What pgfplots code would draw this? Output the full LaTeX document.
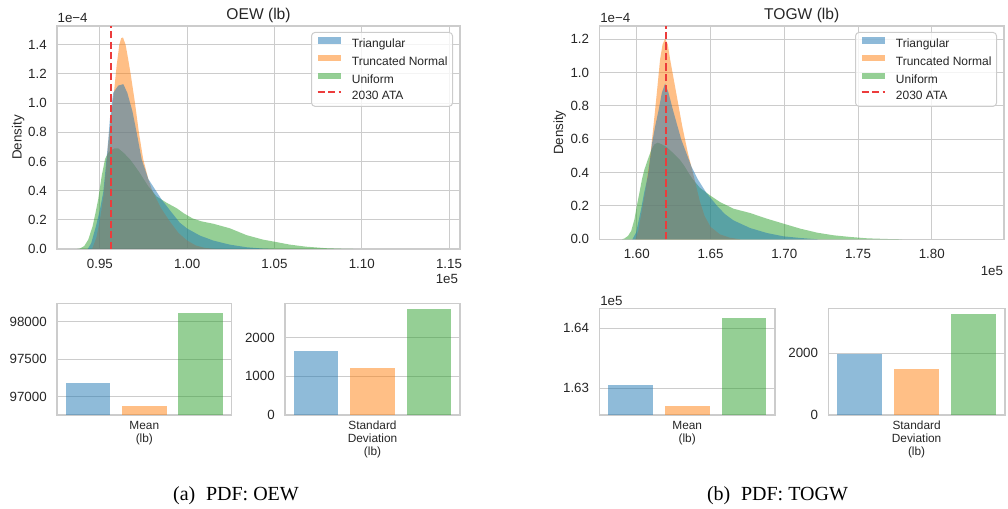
\documentclass[border=0pt]{standalone}
\usepackage{fontspec}
\setmainfont{Liberation Sans}
\newfontfamily\capfont{Liberation Serif}
\usepackage{pgfplots}
\pgfplotsset{compat=1.18}
\definecolor{tabblue}{RGB}{31,119,180}
\definecolor{taborange}{RGB}{255,127,14}
\definecolor{tabgreen}{RGB}{44,160,44}
\definecolor{gridc}{RGB}{204,204,204}
\definecolor{txt}{RGB}{38,38,38}
\definecolor{ata}{RGB}{236,60,60}
\pgfplotsset{
  sb/.style={
    scale only axis, anchor=south west,
    axis line style={draw=gridc, line width=0.9pt},
    major grid style={draw=gridc, line width=0.75pt},
    major tick length=0pt,
    every tick/.style={draw=none},
    /pgf/number format/assume math mode=true,
    ticklabel style={text=txt, font=\fontsize{10}{12}\selectfont},
    yticklabel style={inner sep=0pt, anchor=east, xshift=-7.5pt},
    scaled ticks=false,
  },
  hist/.style={sb, xmajorgrids, ymajorgrids, ymin=0,
    xticklabel style={inner sep=0pt, anchor=north, yshift=-7.5pt},
    legend style={at={(1,1)}, anchor=north east, xshift=-5.25pt, yshift=-4.5pt,
      draw=gridc, line width=0.75pt, rounded corners=2.5pt, fill=white, fill opacity=0.8, text opacity=1,
      font=\fontsize{9}{10.8}\selectfont, text=txt,
      inner xsep=3.75pt, inner ysep=3.4pt, row sep=3.3pt, column sep=7.5pt,
      nodes={inner sep=0pt, text height=6.6pt, text depth=1.9pt}},
    legend cell align=left,
  },
  bars/.style={sb, ymajorgrids, xmin=-0.5, xmax=0.5, xtick={0},
    xticklabel style={inner sep=0pt, anchor=north, yshift=-4.5pt, align=center, font=\fontsize{8.9}{9.5}\selectfont},
  },
  patchleg/.style={legend image code/.code={\fill[##1, sharp corners] (0pt,0.8pt) rectangle (17.5pt,5.8pt);}},
  lineleg/.style={legend image code/.code={\draw[##1, sharp corners] (0pt,3.3pt) -- (17.5pt,3.3pt);}},
  hb/.style={draw=none, fill=tabblue, fill opacity=0.5, forget plot},
  ho/.style={draw=none, fill=taborange, fill opacity=0.5, forget plot},
  hg/.style={draw=none, fill=tabgreen, fill opacity=0.5, forget plot},
  ataline/.style={ata, line width=1.5pt, dash pattern=on 5.5pt off 2.4pt},
  bb/.style={ybar, bar width=0.255, bar shift=0pt, draw=none, fill opacity=0.5},
}
\begin{document}
\begin{tikzpicture}
\useasboundingbox (0,0) rectangle (756pt,381pt);

% ---------------- OEW histogram ----------------
\begin{axis}[hist, at={(42.75pt,194.25pt)}, width=302.25pt, height=167.25pt,
  xmin=0.9254, xmax=1.1563, ymax=1.5285,
  xtick={0.95,1.00,1.05,1.10,1.15}, xticklabels={0.95,1.00,1.05,1.10,1.15},
  ytick={0,0.2,0.4,0.6,0.8,1.0,1.2,1.4}, yticklabels={0.0,0.2,0.4,0.6,0.8,1.0,1.2,1.4}]
\addlegendimage{patchleg, fill=tabblue, fill opacity=0.5, draw=none}
\addlegendentry{Triangular}
\addlegendimage{patchleg, fill=taborange, fill opacity=0.5, draw=none}
\addlegendentry{Truncated Normal}
\addlegendimage{patchleg, fill=tabgreen, fill opacity=0.5, draw=none}
\addlegendentry{Uniform}
\addlegendimage{lineleg, ataline}
\addlegendentry{2030 ATA}
% Uniform
\addplot[hg] coordinates {(0.9370,0) (0.9385,0.003) (0.9410,0.02) (0.9433,0.064) (0.9458,0.156) (0.9475,0.25) (0.9490,0.34) (0.9510,0.5) (0.9529,0.615) (0.9545,0.655) (0.9560,0.675) (0.9585,0.69) (0.9605,0.69) (0.9635,0.66) (0.9672,0.615) (0.9700,0.57) (0.9729,0.52) (0.9777,0.43) (0.9825,0.36) (0.9882,0.317) (0.9939,0.28) (0.9980,0.245) (1.0030,0.21) (1.0080,0.19) (1.0150,0.173) (1.0244,0.142) (1.0340,0.095) (1.0435,0.064) (1.0500,0.05) (1.0588,0.03) (1.0680,0.016) (1.0800,0.005) (1.0900,0.001) (1.0950,0)} \closedcycle;
% Truncated Normal
\addplot[ho] coordinates {(0.9455,0) (0.9480,0.08) (0.9500,0.2) (0.9520,0.36) (0.9535,0.55) (0.9550,0.75) (0.9565,0.92) (0.9580,1.07) (0.9596,1.26) (0.9611,1.4) (0.9622,1.445) (0.9632,1.45) (0.9647,1.4) (0.9662,1.3) (0.9676,1.2) (0.9701,1.0) (0.9723,0.8) (0.9748,0.615) (0.9777,0.48) (0.9800,0.40) (0.9850,0.28) (0.9900,0.19) (0.9950,0.11) (1.0000,0.058) (1.0050,0.024) (1.0100,0.008) (1.0150,0.002) (1.0200,0)} \closedcycle;
% Triangular
\addplot[hb] coordinates {(0.9430,0) (0.9450,0.04) (0.9477,0.156) (0.9500,0.27) (0.9519,0.39) (0.9534,0.57) (0.9548,0.75) (0.9557,0.89) (0.9576,1.07) (0.9605,1.12) (0.9634,1.13) (0.9657,1.07) (0.9687,0.94) (0.9710,0.8) (0.9739,0.615) (0.9777,0.48) (0.9815,0.41) (0.9853,0.34) (0.9911,0.25) (0.9958,0.18) (1.0000,0.14) (1.0073,0.092) (1.0149,0.058) (1.0244,0.03) (1.0340,0.012) (1.0435,0.003) (1.0500,0)} \closedcycle;
\addplot[ataline, forget plot] coordinates {(0.9563,0) (0.9563,1.5285)};
\end{axis}

% ---------------- TOGW histogram ----------------
\begin{axis}[hist, at={(449.5pt,201.5pt)}, width=303.5pt, height=160pt,
  xmin=1.5746, xmax=1.849, ymax=1.28,
  xtick={1.60,1.65,1.70,1.75,1.80}, xticklabels={1.60,1.65,1.70,1.75,1.80},
  ytick={0,0.2,0.4,0.6,0.8,1.0,1.2}, yticklabels={0.0,0.2,0.4,0.6,0.8,1.0,1.2}]
\addlegendimage{patchleg, fill=tabblue, fill opacity=0.5, draw=none}
\addlegendentry{Triangular}
\addlegendimage{patchleg, fill=taborange, fill opacity=0.5, draw=none}
\addlegendentry{Truncated Normal}
\addlegendimage{patchleg, fill=tabgreen, fill opacity=0.5, draw=none}
\addlegendentry{Uniform}
\addlegendimage{lineleg, ataline}
\addlegendentry{2030 ATA}
% Uniform
\addplot[hg] coordinates {(1.5900,0) (1.5916,0.005) (1.5940,0.02) (1.5962,0.05) (1.5984,0.12) (1.6000,0.2) (1.6018,0.28) (1.6035,0.36) (1.6052,0.42) (1.6075,0.48) (1.6100,0.54) (1.6120,0.57) (1.6143,0.58) (1.6170,0.57) (1.6200,0.555) (1.6244,0.52) (1.6290,0.48) (1.6323,0.44) (1.6350,0.40) (1.6380,0.36) (1.6427,0.31) (1.6496,0.264) (1.6564,0.224) (1.6655,0.184) (1.6768,0.158) (1.6882,0.124) (1.6995,0.094) (1.7109,0.064) (1.7223,0.04) (1.7336,0.024) (1.7450,0.014) (1.7564,0.006) (1.7700,0.002) (1.7800,0)} \closedcycle;
% Truncated Normal
\addplot[ho] coordinates {(1.5990,0) (1.6010,0.05) (1.6030,0.15) (1.6060,0.30) (1.6090,0.49) (1.6113,0.68) (1.6136,0.88) (1.6158,1.08) (1.6175,1.17) (1.6192,1.204) (1.6210,1.17) (1.6226,1.08) (1.6267,0.88) (1.6308,0.68) (1.6346,0.52) (1.6369,0.44) (1.6400,0.33) (1.6427,0.23) (1.6460,0.14) (1.6500,0.075) (1.6564,0.03) (1.6630,0.01) (1.6700,0)} \closedcycle;
% Triangular
\addplot[hb] coordinates {(1.5970,0) (1.5995,0.04) (1.6029,0.18) (1.6050,0.28) (1.6075,0.38) (1.6090,0.48) (1.6104,0.58) (1.6125,0.68) (1.6149,0.78) (1.6170,0.88) (1.6192,0.935) (1.6215,0.88) (1.6244,0.78) (1.6301,0.6) (1.6369,0.44) (1.6414,0.36) (1.6471,0.28) (1.6550,0.195) (1.6600,0.15) (1.6655,0.114) (1.6768,0.068) (1.6882,0.038) (1.6995,0.018) (1.7110,0.008) (1.7230,0)} \closedcycle;
\addplot[ataline, forget plot] coordinates {(1.6197,0) (1.6197,1.28)};
\end{axis}

% ---------------- OEW mean ----------------
\begin{axis}[bars, at={(42.75pt,69.75pt)}, width=131pt, height=83.8pt,
  ymin=96761, ymax=98244, ytick={97000,97500,98000}, yticklabels={97000,97500,98000},
  xticklabels={{Mean\\(lb)}}]
\addplot[bb, fill=tabblue] coordinates {(-0.323,97182)};
\addplot[bb, fill=taborange] coordinates {(0,96881)};
\addplot[bb, fill=tabgreen] coordinates {(0.323,98111)};
\end{axis}

% ---------------- OEW std ----------------
\begin{axis}[bars, at={(213.75pt,69.75pt)}, width=131.25pt, height=83.8pt,
  ymin=0, ymax=2889, ytick={0,1000,2000}, yticklabels={0,1000,2000},
  xticklabels={{Standard\\Deviation\\(lb)}}]
\addplot[bb, fill=tabblue] coordinates {(-0.323,1655)};
\addplot[bb, fill=taborange] coordinates {(0,1223)};
\addplot[bb, fill=tabgreen] coordinates {(0.323,2733)};
\end{axis}

% ---------------- TOGW mean ----------------
\begin{axis}[bars, at={(449.5pt,69.75pt)}, width=131.8pt, height=79.7pt,
  ymin=1.62555, ymax=1.64327, ytick={1.63,1.64}, yticklabels={1.63,1.64},
  xticklabels={{Mean\\(lb)}}]
\addplot[bb, fill=tabblue] coordinates {(-0.323,1.6306)};
\addplot[bb, fill=taborange] coordinates {(0,1.62705)};
\addplot[bb, fill=tabgreen] coordinates {(0.323,1.64177)};
\end{axis}

% ---------------- TOGW std ----------------
\begin{axis}[bars, at={(621.2pt,69.75pt)}, width=132.5pt, height=79.7pt,
  ymin=0, ymax=3446, ytick={0,2000}, yticklabels={0,2000},
  xticklabels={{Standard\\Deviation\\(lb)}}]
\addplot[bb, fill=tabblue] coordinates {(-0.323,1987)};
\addplot[bb, fill=taborange] coordinates {(0,1481)};
\addplot[bb, fill=tabgreen] coordinates {(0.323,3284)};
\end{axis}

% ---------------- texts ----------------
\begin{scope}[every node/.style={text=txt, inner sep=0pt}]
\node[anchor=base, font=\fontsize{11.7}{14}\selectfont] at (193.9pt,366.5pt) {OEW (lb)};
\node[anchor=base, font=\fontsize{11.7}{14}\selectfont] at (601.3pt,366.5pt) {TOGW (lb)};
\node[anchor=base west, font=\fontsize{10}{12}\selectfont] at (43pt,364pt) {1e−4};
\node[anchor=base west, font=\fontsize{10}{12}\selectfont] at (450pt,364pt) {1e−4};
\node[anchor=base east, font=\fontsize{10}{12}\selectfont] at (343.7pt,168.5pt) {1e5};
\node[anchor=base east, font=\fontsize{10}{12}\selectfont] at (752.5pt,174.75pt) {1e5};
\node[anchor=base west, font=\fontsize{10}{12}\selectfont] at (450pt,152.25pt) {1e5};
\node[rotate=90, font=\fontsize{10}{12}\selectfont] at (13.7pt,277.9pt) {Density};
\node[rotate=90, font=\fontsize{10}{12}\selectfont] at (419.8pt,281.5pt) {Density};
\node[anchor=base, text=black, font=\capfont\fontsize{15}{18}\selectfont] at (177pt,6pt) {(a)\hspace{8pt}PDF: OEW};
\node[anchor=base, text=black, font=\capfont\fontsize{15}{18}\selectfont] at (583.1pt,6pt) {(b)\hspace{8pt}PDF: TOGW};
\end{scope}
\end{tikzpicture}
\end{document}
